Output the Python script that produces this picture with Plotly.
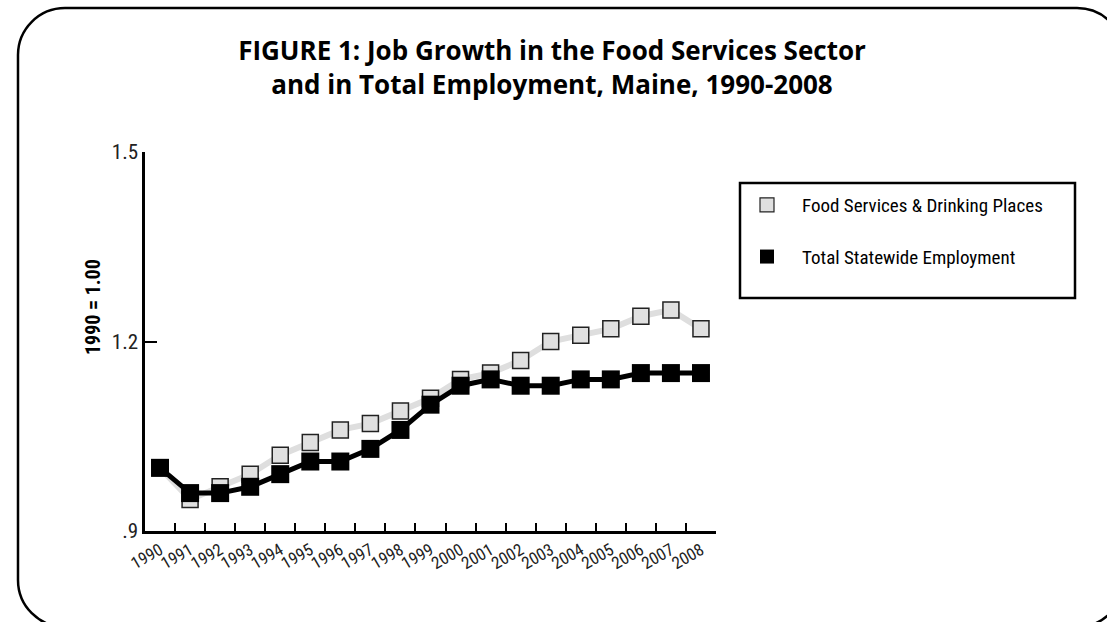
import plotly.graph_objects as go

years = [str(y) for y in range(1990, 2009)]
food_services = [1.00, 0.95, 0.97, 0.99, 1.02, 1.04, 1.06, 1.07, 1.09, 1.11,
                 1.14, 1.15, 1.17, 1.20, 1.21, 1.22, 1.24, 1.25, 1.22]
total_employment = [1.00, 0.96, 0.96, 0.97, 0.99, 1.01, 1.01, 1.03, 1.06, 1.10,
                    1.13, 1.14, 1.13, 1.13, 1.14, 1.14, 1.15, 1.15, 1.15]
y_tickvals = [0.9, 1.2, 1.5]
y_ticktext = [".9", "1.2", "1.5"]
series_names = ["Food Services & Drinking Places", "Total Statewide Employment"]

W, H = 1107, 622
def px(x):
    return x / W
def py(y):
    return 1 - y / H

NARROW = "Liberation Sans Narrow, Arial Narrow, Roboto Condensed, Liberation Sans, sans-serif"
GRAY = "#e0e0e0"

fig = go.Figure()
fig.add_trace(go.Scatter(
    x=years, y=food_services, mode="lines+markers", showlegend=False,
    line=dict(color="#dedede", width=6),
    marker=dict(symbol="square", size=16, color=GRAY, line=dict(color="#222", width=1.5)),
))
fig.add_trace(go.Scatter(
    x=years, y=total_employment, mode="lines+markers", showlegend=False,
    line=dict(color="black", width=5),
    marker=dict(symbol="square", size=18, color="black", line=dict(color="black", width=0)),
))
# legend entries (marker only)
fig.add_trace(go.Scatter(
    x=[None], y=[None], mode="markers", name=series_names[0], legendgroup="a",
    marker=dict(symbol="square", size=14, color=GRAY, line=dict(color="#222", width=1.2)),
))
fig.add_trace(go.Scatter(
    x=[None], y=[None], mode="markers", name=series_names[1], legendgroup="b",
    marker=dict(symbol="square", size=14, color="black"),
))

# outer rounded frame
x0, y0, x1, y1, r = 18, 8, 1124, 627, 47
k = 0.5523 * r
def P(x, y):
    return f"{px(x):.5f},{py(y):.5f}"
path = (f"M {P(x0 + r, y0)} L {P(x1 - r, y0)} "
        f"C {P(x1 - r + k, y0)} {P(x1, y0 + r - k)} {P(x1, y0 + r)} "
        f"L {P(x1, y1 - r)} "
        f"C {P(x1, y1 - r + k)} {P(x1 - r + k, y1)} {P(x1 - r, y1)} "
        f"L {P(x0 + r, y1)} "
        f"C {P(x0 + r - k, y1)} {P(x0, y1 - r + k)} {P(x0, y1 - r)} "
        f"L {P(x0, y0 + r)} "
        f"C {P(x0, y0 + r - k)} {P(x0 + r - k, y0)} {P(x0 + r, y0)} Z")

fig.update_layout(
    width=W, height=H,
    margin=dict(l=0, r=0, t=0, b=0),
    paper_bgcolor="white", plot_bgcolor="white",
    title=dict(
        text="FIGURE 1: Job Growth in the Food Services Sector<br>and in Total Employment, Maine, 1990-2008",
        x=px(552), y=py(60), xanchor="center", yanchor="middle",
        font=dict(family="Open Sans, Lato, sans-serif", size=26, color="black", weight="bold"),
    ),
    xaxis=dict(
        domain=[px(145), px(716)], type="category", range=[-0.5, 18.5],
        tickson="boundaries", ticks="inside", ticklen=8, tickwidth=2, tickcolor="black",
        showline=True, linecolor="black", linewidth=2.5, showgrid=False, zeroline=False,
        tickangle=-30, tickfont=dict(family=NARROW, size=17, color="#222"),
        automargin=False, fixedrange=True,
    ),
    yaxis=dict(
        domain=[py(531), py(152)], range=[0.9, 1.5],
        tickvals=y_tickvals, ticktext=y_ticktext,
        ticks="inside", ticklen=12, tickwidth=2, tickcolor="black",
        showline=True, linecolor="black", linewidth=2.5, showgrid=False, zeroline=False,
        tickfont=dict(family=NARROW, size=21, color="#222"),
        automargin=False, fixedrange=True,
    ),
    legend=dict(
        x=px(732), y=py(186), xanchor="left", yanchor="top",
        bgcolor="rgba(0,0,0,0)", borderwidth=0,
        font=dict(family=NARROW, size=19, color="black"),
        traceorder="grouped", tracegroupgap=24, itemwidth=60,
    ),
    shapes=[
        dict(type="path", xref="paper", yref="paper", path=path,
             line=dict(color="black", width=2.5)),
        dict(type="rect", xref="paper", yref="paper",
             x0=px(740), x1=px(1075), y0=py(183), y1=py(298),
             line=dict(color="black", width=2.5)),
    ],
    annotations=[
        dict(text="<b>1990 = 1.00</b>", xref="paper", yref="paper",
             x=px(93), y=py(307), textangle=-90, showarrow=False,
             font=dict(family=NARROW, size=20, color="black"),
             xanchor="center", yanchor="middle"),
    ],
)

fig.write_html("out.html", post_script="document.body.style.margin='0';",
               config={"displayModeBar": False})
